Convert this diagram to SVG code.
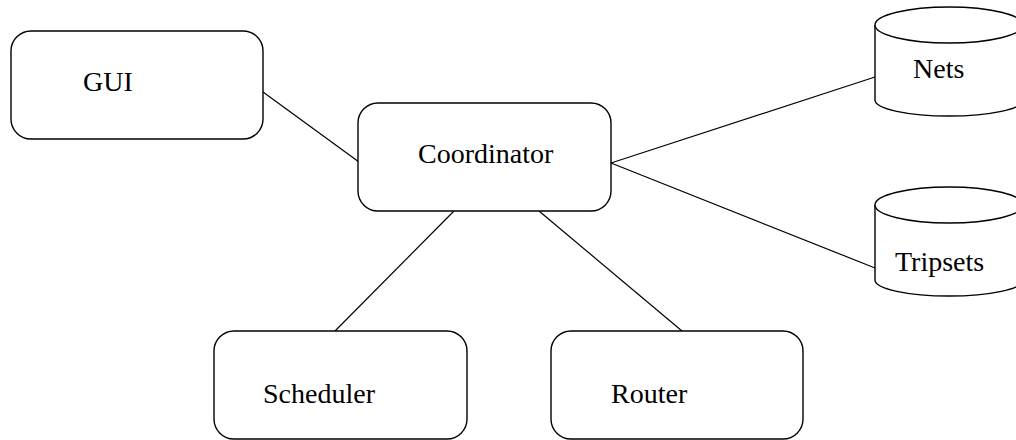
<svg xmlns="http://www.w3.org/2000/svg" width="1016" height="440" viewBox="0 0 1016 440">
  <style>
    .box { fill: #ffffff; stroke: #000000; stroke-width: 1.4; }
    .db { fill: #ffffff; stroke: #000000; stroke-width: 1.4; }
    .link { fill: none; stroke: #000000; stroke-width: 1.2; }
    .label { font-family: "Liberation Serif", "Times New Roman", serif; font-size: 28px; fill: #000000; }
  </style>
  <defs>
    <!-- database cylinder, origin at the left edge of the top rim centre -->
    <g id="cylinder">
      <path class="db" d="M0,0 L0,75 A74,16 0 0 0 148,75 L148,0"/>
      <ellipse class="db" cx="74" cy="0" rx="74" ry="18"/>
    </g>
  </defs>
  <rect width="1016" height="440" fill="#ffffff"/>

  <g id="connectors">
    <line class="link" x1="263" y1="92" x2="359" y2="162"/>
    <line class="link" x1="611" y1="163" x2="875" y2="77"/>
    <line class="link" x1="611" y1="163" x2="875" y2="268"/>
    <line class="link" x1="454" y1="211" x2="335" y2="331"/>
    <line class="link" x1="539" y1="211" x2="682" y2="331"/>
  </g>

  <g id="gui">
    <rect class="box" x="11" y="31" width="252" height="108" rx="20" ry="20"/>
    <text class="label" x="83" y="91">GUI</text>
  </g>

  <g id="coordinator">
    <rect class="box" x="358" y="103" width="253" height="108" rx="20" ry="20"/>
    <text class="label" x="418" y="163">Coordinator</text>
  </g>

  <g id="scheduler">
    <rect class="box" x="214" y="331" width="253" height="108" rx="20" ry="20"/>
    <text class="label" x="263" y="403">Scheduler</text>
  </g>

  <g id="router">
    <rect class="box" x="551" y="331" width="252" height="108" rx="20" ry="20"/>
    <text class="label" x="611" y="403">Router</text>
  </g>

  <g id="nets">
    <use href="#cylinder" x="875" y="25"/>
    <text class="label" x="913" y="78">Nets</text>
  </g>

  <g id="tripsets">
    <use href="#cylinder" x="875" y="205"/>
    <text class="label" x="895" y="271">Tripsets</text>
  </g>
</svg>
